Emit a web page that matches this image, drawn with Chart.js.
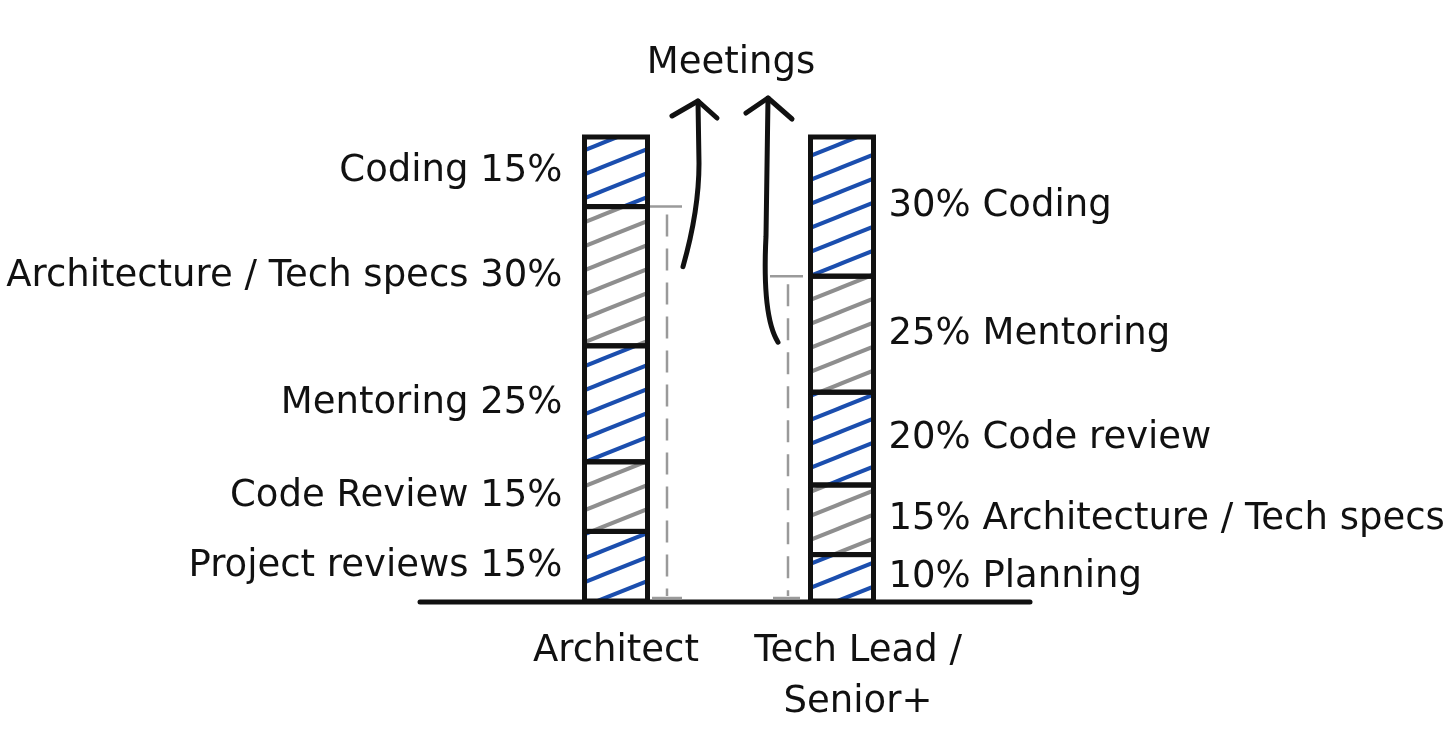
<!DOCTYPE html>
<html>
<head>
<meta charset="utf-8">
<script src="https://cdn.jsdelivr.net/npm/chart.js@4/dist/chart.umd.min.js"></script>
<style>
  html, body { margin: 0; padding: 0; background: #fff; }
  #wrap { width: 1456px; height: 754px; position: relative; }
</style>
</head>
<body>
<div id="wrap"><canvas id="myChart"></canvas></div>
<script>
// roles (x categories)
const roles = ["Architect", ["Tech Lead /", "Senior+"]];
// segments, bottom to top
const architectTasks = ["Project reviews", "Code Review", "Mentoring", "Architecture / Tech specs", "Coding"];
const architectShares = [15, 15, 25, 30, 15];
const techLeadTasks = ["Planning", "Architecture / Tech specs", "Code review", "Mentoring", "Coding"];
const techLeadShares = [10, 15, 20, 25, 30];
const meetingsLabel = "Meetings";

const FONT = "37px 'DejaVu Sans'";
const INK = "#111";

/**
 * diagonal hatch pattern (lines rising to the right)
 */
const makeHatch = function (color) {
  const w = 60, h = 24;
  const c = document.createElement("canvas");
  c.width = w;
  c.height = h;
  const g = c.getContext("2d");
  g.strokeStyle = color;
  g.lineWidth = 4;
  g.lineCap = "round";
  for (let k = -1; k <= 1; k++) {
    g.beginPath();
    g.moveTo(-w + k * w, 2 * h);
    g.lineTo(2 * w + k * w, -h);
    g.stroke();
  }
  return g.createPattern(c, "repeat");
};
const blueHatch = makeHatch("#1b4eae");
const grayHatch = makeHatch("#8e8e8e");

const datasets = architectShares.map(function (share, i) {
  return {
    label: architectTasks[i] + " | " + techLeadTasks[i],
    data: [share, techLeadShares[i]],
    backgroundColor: i % 2 === 0 ? blueHatch : grayHatch,
    borderWidth: 0,
    barThickness: 63,
  };
});

// arrow helper: path then a chevron at the tip
const drawArrow = function (ctx, pathFn, tip, armL, armR) {
  ctx.save();
  ctx.strokeStyle = INK;
  ctx.lineWidth = 5;
  ctx.lineCap = "round";
  ctx.lineJoin = "round";
  ctx.beginPath();
  pathFn();
  ctx.stroke();
  ctx.beginPath();
  ctx.moveTo(tip.x + armL.x, tip.y + armL.y);
  ctx.lineTo(tip.x, tip.y);
  ctx.lineTo(tip.x + armR.x, tip.y + armR.y);
  ctx.stroke();
  ctx.restore();
};

const sketchPlugin = {
  id: "sketch",
  afterDatasetsDraw(chart) {
    const ctx = chart.ctx;
    const area = chart.chartArea;
    const base = chart.scales.y.getPixelForValue(0);
    const metas = chart.data.datasets.map(function (d, i) { return chart.getDatasetMeta(i); });
    const archX = metas[0].data[0].x;
    const techX = metas[0].data[1].x;
    const half = metas[0].data[0].width / 2;
    const archRight = archX + half + 2.5;
    const techLeft = techX - half - 2.5;

    // segment outlines
    ctx.save();
    ctx.strokeStyle = INK;
    ctx.lineWidth = 5;
    metas.forEach(function (meta) {
      meta.data.forEach(function (el) {
        ctx.strokeRect(el.x - el.width / 2, el.y, el.width, el.base - el.y);
      });
    });
    ctx.restore();

    ctx.save();
    ctx.fillStyle = INK;
    ctx.font = FONT;
    ctx.textBaseline = "middle";

    // segment labels
    metas.forEach(function (meta, i) {
      const a = meta.data[0];
      const t = meta.data[1];
      ctx.textAlign = "right";
      ctx.fillText(architectTasks[i] + " " + architectShares[i] + "%", archX - half - 22, (a.y + a.base) / 2);
      ctx.textAlign = "left";
      ctx.fillText(techLeadShares[i] + "% " + techLeadTasks[i], techX + half + 15, (t.y + t.base) / 2);
    });

    // category labels
    ctx.textAlign = "center";
    ctx.textBaseline = "alphabetic";
    roles.forEach(function (role, j) {
      const lines = Array.isArray(role) ? role : [role];
      const x = metas[0].data[j].x;
      lines.forEach(function (line, k) {
        ctx.fillText(line, x + (j === 1 ? 16 : 0), base + 60 + k * 51);
      });
    });

    // meetings title
    ctx.textBaseline = "middle";
    ctx.fillText(meetingsLabel, (archX + techX) / 2 + 2, area.top - 74);
    ctx.restore();

    // baseline
    ctx.save();
    ctx.strokeStyle = INK;
    ctx.lineWidth = 5;
    ctx.lineCap = "round";
    ctx.beginPath();
    ctx.moveTo(area.left - 83, base + 1);
    ctx.lineTo(area.right + 75, base + 1);
    ctx.stroke();
    ctx.restore();

    // dashed brackets from top of 4th segment down to the base
    const archTop = metas[3].data[0].y;
    const techTop = metas[3].data[1].y;
    ctx.save();
    ctx.strokeStyle = "#9a9a9a";
    ctx.lineWidth = 2.5;
    ctx.beginPath();
    ctx.moveTo(archRight, archTop);
    ctx.lineTo(archRight + 32, archTop);
    ctx.moveTo(archRight + 2, base - 3);
    ctx.lineTo(archRight + 32, base - 3);
    ctx.moveTo(techLeft - 38, techTop);
    ctx.lineTo(techLeft - 5, techTop);
    ctx.moveTo(techLeft - 35, base - 3);
    ctx.lineTo(techLeft - 8, base - 3);
    ctx.stroke();
    ctx.setLineDash([22, 12]);
    ctx.beginPath();
    ctx.moveTo(archRight + 17, archTop + 8);
    ctx.lineTo(archRight + 17, base - 5);
    ctx.moveTo(techLeft - 20, techTop + 8);
    ctx.lineTo(techLeft - 20, base - 5);
    ctx.stroke();
    ctx.restore();

    // meetings arrows
    const tipY = area.top - 36;
    const lx = archRight + 48;
    drawArrow(ctx, function () {
      ctx.moveTo(archRight + 33, archTop + 60);
      ctx.bezierCurveTo(archRight + 43, archTop + 25, lx + 1, archTop - 13, lx + 1, archTop - 43);
      ctx.lineTo(lx, tipY);
    }, { x: lx, y: tipY }, { x: -26, y: 15 }, { x: 19, y: 17 });

    const rx = techLeft - 40;
    drawArrow(ctx, function () {
      ctx.moveTo(rx, tipY - 3);
      ctx.lineTo(rx - 2, techTop - 40);
      ctx.bezierCurveTo(rx - 5, techTop + 20, rx, techTop + 50, rx + 10, techTop + 66);
    }, { x: rx, y: tipY - 3 }, { x: -22, y: 15 }, { x: 24, y: 21 });
  },
};

const ctx = document.getElementById("myChart").getContext("2d");
const myChart = new Chart(ctx, {
  type: "bar",
  data: {
    labels: roles,
    datasets: datasets,
  },
  options: {
    responsive: true,
    maintainAspectRatio: false,
    animation: false,
    layout: {
      padding: { left: 503, right: 501, top: 137, bottom: 153 },
    },
    plugins: {
      legend: { display: false },
      tooltip: { enabled: false },
    },
    scales: {
      x: { stacked: true, display: false },
      y: { stacked: true, display: false, min: 0, max: 100 },
    },
  },
  plugins: [sketchPlugin],
});
</script>
</body>
</html>
